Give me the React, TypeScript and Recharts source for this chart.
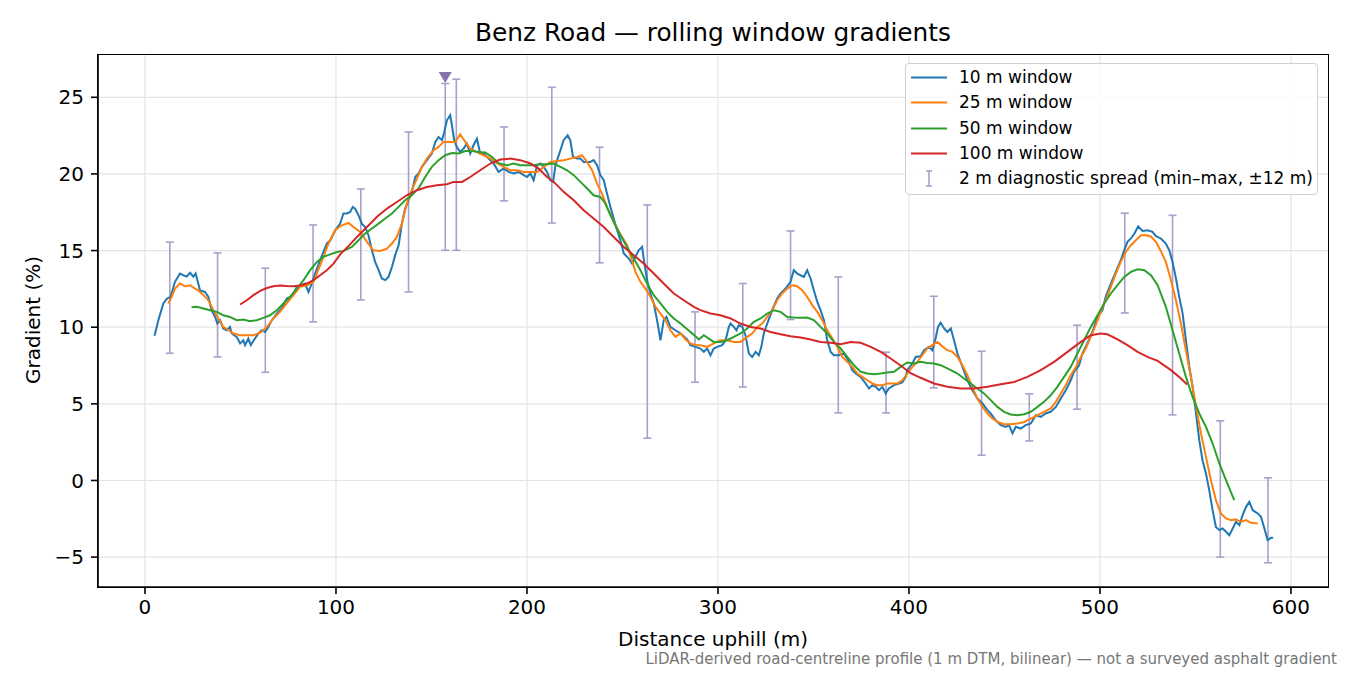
import React from 'react';
import { ComposedChart, Line, Scatter, ErrorBar, XAxis, YAxis, CartesianGrid } from 'recharts';

// [distance (m), gradient (%)]
const win10: [number, number][] = [
  [5, 9.45], [7, 10.46], [9.6, 11.55], [11.4, 11.85], [13.4, 11.98], [15.7, 12.96], [18.3, 13.5], [20, 13.4],
  [21.8, 13.3], [23.6, 13.55], [25.3, 13.3], [26.5, 13.5], [27.9, 12.85], [28.8, 12.4], [31.4, 12.3], [33.2, 11.98],
  [34.9, 11.1], [36.7, 10.67], [37.9, 10.24], [39.3, 10.46], [41, 9.92], [42.8, 9.8], [44.5, 10.02], [45.4, 9.59],
  [48, 9.37], [49.8, 8.94], [51.5, 9.15], [52.4, 8.83], [54.1, 9.26], [55.4, 8.83], [57.6, 9.26], [59.4, 9.59],
  [61.1, 9.8], [62.9, 9.69], [64.6, 10.02], [66.4, 10.46], [69, 10.89], [71.6, 11.22], [74.2, 11.87], [76, 11.98],
  [77.7, 12.2], [79.5, 12.63], [82.1, 12.74], [83.8, 12.85], [85.6, 12.3], [87.3, 12.85], [89.1, 13.5], [91.7, 14.37],
  [95.2, 15.46], [97, 15.67], [99.6, 16.33], [102.2, 16.76], [103.9, 17.42], [105.7, 17.42], [107.4, 17.52], [108.8, 17.85],
  [110, 17.74], [111.8, 17.31], [113.5, 16.76], [115.3, 16.54], [117, 16.0], [118.8, 15.02], [120.5, 14.26], [122.3, 13.72],
  [124, 13.18], [125.8, 13.07], [127.5, 13.28], [129.3, 13.93], [131, 14.7], [132.8, 15.35], [134.5, 16.76], [136.2, 17.74],
  [138, 18.28], [139.7, 18.83], [141.5, 19.8], [143.2, 20.03], [145, 20.46], [147.6, 20.9], [150.2, 21.33], [152, 22.09],
  [153.7, 22.41], [155.5, 22.2], [156.7, 22.74], [158.1, 23.5], [159.8, 23.83], [160.7, 23.18], [161.9, 22.2], [163.3, 21.76],
  [165, 21.43], [166.8, 21.65], [168.5, 21.98], [170.3, 21.33], [172, 21.87], [173.8, 22.3], [175.5, 21.33], [177.3, 21.33],
  [179.9, 21.0], [182.5, 20.7], [185.1, 20.13], [187.8, 20.35], [190.4, 20.13], [193, 20.03], [195.6, 20.13], [198.3, 19.92],
  [200, 19.8], [201.8, 20.03], [203.5, 19.59], [205.3, 20.57], [207, 20.68], [208.8, 20.46], [210.5, 20.13], [212.2, 19.59],
  [213.7, 19.48], [214.9, 20.57], [217.5, 21.54], [219.2, 22.2], [221.3, 22.52], [222.7, 22.2], [224.1, 21.11], [226.2, 21.0],
  [228, 21.0], [229.7, 20.78], [231.5, 20.78], [233.2, 20.78], [234.9, 20.9], [236.7, 20.57], [238.4, 19.92], [240.2, 19.59],
  [241.9, 18.72], [243.7, 17.85], [245.4, 17.09], [247.2, 16.33], [248.9, 15.67], [250.7, 14.81], [253.3, 14.48], [255, 14.16],
  [256.8, 14.59], [258.5, 15.02], [260.3, 15.24], [261.1, 14.48], [262.9, 13.07], [264.6, 12.2], [266.4, 11.55], [268.1, 10.46],
  [269.9, 9.15], [271.6, 10.46], [273, 10.67], [275.1, 10.02], [277.7, 9.8], [280.4, 9.59], [283.9, 9.2], [285.6, 8.83],
  [288.2, 8.72], [290.8, 8.61], [292.6, 8.39], [294.3, 8.61], [296.1, 8.17], [297.8, 8.61], [299.6, 8.72], [302.2, 8.83],
  [304, 9.15], [305.7, 10.02], [306.6, 10.24], [308.3, 10.02], [309.7, 9.8], [310.9, 10.13], [312.7, 10.02], [314.4, 9.48],
  [316.2, 8.28], [317.9, 8.06], [319.7, 8.39], [321.4, 8.17], [322.7, 8.72], [324, 9.59], [325.8, 10.24], [328.4, 11.11],
  [331, 11.87], [332.8, 12.2], [335.4, 12.52], [338, 12.96], [339.7, 13.72], [341.5, 13.5], [343.2, 13.39], [345, 13.28],
  [346.7, 13.72], [348.5, 13.18], [350.2, 12.41], [352, 11.65], [353.7, 11.11], [355.5, 10.46], [357.2, 9.15], [359, 8.39],
  [360.7, 8.17], [363.3, 8.17], [365.9, 8.28], [368.6, 7.74], [370.3, 7.2], [372.1, 6.98], [374.7, 6.76], [377.3, 6.33],
  [379.1, 6.0], [380.8, 6.22], [382.6, 6.11], [384.3, 5.89], [386.1, 6.11], [387.8, 5.68], [389.5, 6.0], [392.2, 6.22],
  [394.8, 6.33], [396.5, 6.4], [398.3, 6.76], [399.1, 7.2], [401.8, 7.63], [403.5, 8.06], [406.1, 8.1], [407.9, 8.5],
  [410.5, 8.72], [412.2, 8.5], [414, 9.3], [415.2, 10.02], [416.6, 10.3], [418.4, 9.92], [420.1, 9.69], [421.9, 9.92],
  [423.6, 9.15], [425.4, 8.28], [428, 7.41], [430.6, 6.54], [433.2, 5.89], [435.8, 5.35], [438.5, 5.02], [441.1, 4.59],
  [442.8, 4.37], [445.4, 3.93], [448.1, 3.61], [450.7, 3.5], [452.4, 3.61], [454.2, 3.07], [455.9, 3.5], [458.5, 3.39],
  [461.1, 3.61], [463.8, 3.72], [466.4, 4.26], [469, 4.15], [471.6, 4.37], [474.2, 4.48], [476.9, 4.8], [479.5, 5.35],
  [482.1, 5.89], [484.7, 6.54], [486.4, 7.09], [489.1, 7.52], [490.8, 8.28], [493.4, 8.94], [496, 9.69], [498.7, 10.67],
  [501.3, 11.11], [503, 11.98], [505.7, 12.85], [508.3, 13.61], [510.9, 14.37], [512.7, 15.02], [514.4, 15.57], [516.2, 15.79],
  [518, 16.1], [520, 16.57], [522.3, 16.28], [524.9, 16.33], [527.5, 16.22], [529.3, 15.94], [531.9, 15.79], [534.5, 15.46],
  [536.3, 15.02], [538, 14.26], [539.8, 13.18], [541.5, 11.98], [543.3, 10.89], [545, 9.15], [546.8, 7.41], [548.5, 6.11],
  [550.3, 4.37], [552, 2.63], [553.7, 1.32], [555.5, 0.46], [557.2, -0.63], [559, -1.94], [560.7, -3.03], [562.5, -3.24],
  [564.2, -3.13], [566, -3.35], [567.7, -3.57], [569.5, -3.13], [571.2, -2.7], [573, -2.92], [574.7, -2.26], [576.5, -1.72],
  [578.2, -1.4], [580, -1.94], [582.6, -2.15], [584.3, -2.37], [586.1, -3.13], [587.8, -3.89], [589.6, -3.74], [590.7, -3.74],
];

const win25: [number, number][] = [
  [12.2, 11.55], [14, 11.98], [15.7, 12.52], [18.3, 12.85], [21, 12.67], [23.6, 12.74], [26.2, 12.52], [27.9, 12.41],
  [30.6, 12.09], [33.2, 11.76], [35.8, 11.11], [38.4, 10.57], [41, 10.02], [43.7, 9.8], [46.3, 9.59], [49.8, 9.48],
  [53.3, 9.48], [56.8, 9.48], [59.4, 9.59], [62, 9.8], [64.6, 10.13], [67.2, 10.57], [70.7, 11.0], [74.2, 11.55],
  [77.7, 12.09], [81.2, 12.63], [84.7, 12.74], [88.2, 12.96], [91.7, 14.04], [96.1, 15.46], [99.6, 16.33], [103, 16.65],
  [106.6, 16.8], [109.2, 16.54], [112.7, 16.22], [116.2, 15.57], [119.6, 15.02], [123.1, 14.98], [126.7, 15.13], [129.3, 15.46],
  [131.9, 15.89], [134.5, 16.76], [137.1, 18.07], [139.7, 18.94], [142.4, 19.7], [145, 20.46], [147.6, 21.0], [151.1, 21.55],
  [153.7, 21.76], [156.3, 22.09], [159.8, 22.09], [162.5, 22.09], [165, 22.59], [167.7, 22.09], [170.3, 21.65], [173.8, 21.43],
  [177.3, 21.22], [180.8, 21.0], [184.3, 20.7], [187.8, 20.46], [191.3, 20.24], [194.8, 20.24], [198.3, 20.13], [201.8, 20.13],
  [205.3, 20.13], [208.8, 20.46], [212.2, 20.78], [215.7, 20.85], [219.2, 20.9], [222.7, 21.0], [226.2, 21.11], [228.8, 21.22],
  [231.5, 20.78], [234.1, 20.24], [236.7, 19.37], [239.3, 18.72], [241.9, 17.85], [244.6, 17.09], [247.2, 16.44], [249.8, 15.89],
  [252.4, 15.35], [255, 14.37], [256.8, 13.61], [259.4, 12.96], [262, 12.52], [264.6, 11.98], [267.3, 11.33], [269.9, 10.89],
  [272.5, 10.46], [275.1, 9.8], [277.7, 9.37], [280.4, 9.6], [283, 9.2], [285.6, 8.94], [288.2, 8.83], [290.8, 8.83],
  [294.3, 8.72], [297.8, 8.94], [301.3, 9.15], [304.8, 9.15], [308.3, 9.04], [311.8, 9.04], [315.3, 9.37], [317.9, 9.59],
  [320.6, 10.02], [323.2, 10.24], [325.8, 10.67], [328.4, 11.11], [331, 11.76], [333.6, 12.2], [336.3, 12.52], [338.9, 12.74],
  [341.5, 12.67], [344.1, 12.41], [346.7, 11.98], [349.4, 11.44], [352, 11.0], [354.6, 10.46], [357.2, 9.8], [359.9, 9.26],
  [362.5, 8.72], [365.1, 8.06], [367.7, 7.74], [370.3, 7.41], [373, 6.98], [375.6, 6.76], [378.2, 6.54], [380.8, 6.33],
  [383.4, 6.22], [386.1, 6.22], [388.7, 6.33], [391.3, 6.33], [393.9, 6.33], [396.5, 6.54], [399.2, 6.98], [401.8, 7.41],
  [404.4, 7.74], [407, 8.17], [409.6, 8.61], [412.2, 8.83], [414.9, 9.04], [417.5, 8.75], [420.1, 8.5], [422.7, 8.39],
  [425.4, 8.06], [428, 7.52], [430.6, 6.87], [433.2, 6.11], [435.8, 5.35], [438.5, 4.8], [441.1, 4.37], [443.7, 4.04],
  [446.3, 3.82], [449.8, 3.67], [453.3, 3.67], [456.8, 3.72], [460.3, 3.82], [463.8, 4.04], [467.3, 4.26], [470.7, 4.48],
  [474.2, 4.7], [476.9, 5.13], [479.5, 5.68], [482.1, 6.22], [484.7, 6.87], [487.4, 7.41], [490, 8.06], [492.6, 8.61],
  [495.2, 9.37], [497.8, 10.13], [500.4, 11.0], [503, 11.76], [505.7, 12.63], [508.3, 13.5], [510.9, 14.26], [513.5, 14.91],
  [516.2, 15.35], [518.8, 15.67], [521.4, 16.0], [524, 16.0], [526.7, 15.92], [529.3, 15.57], [531.9, 14.96], [534.5, 14.26],
  [537.2, 13.07], [539.8, 11.76], [542.4, 10.24], [545, 8.5], [547.6, 6.76], [550.3, 4.8], [552.9, 3.07], [555.5, 1.54],
  [558.1, 0.02], [560.7, -1.28], [563.3, -2.15], [566, -2.48], [568.6, -2.59], [571.2, -2.54], [573.8, -2.7], [576.5, -2.59],
  [579.1, -2.76], [582.6, -2.81],
];

const win50: [number, number][] = [
  [24.4, 11.3], [27.1, 11.33], [30.6, 11.22], [34.1, 11.11], [37.6, 11.0], [41, 10.78], [44.5, 10.67], [48, 10.46],
  [51.5, 10.5], [55, 10.39], [58.5, 10.46], [62, 10.61], [65.5, 10.78], [69, 11.11], [72.5, 11.55], [76, 11.98],
  [79.5, 12.52], [83, 13.07], [86.5, 13.72], [90, 14.26], [93.4, 14.59], [96.9, 14.75], [100.5, 14.91], [104, 14.98],
  [108.3, 15.24], [111.8, 15.67], [115.3, 16.11], [118.8, 16.44], [122.3, 16.76], [125.8, 17.09], [129.3, 17.42], [132.8, 17.85],
  [136.2, 18.28], [139.7, 18.61], [143.2, 19.05], [146.7, 19.8], [150.2, 20.46], [153.7, 20.9], [157.2, 21.22], [160.7, 21.37],
  [164.2, 21.33], [167.7, 21.5], [171.2, 21.5], [174.7, 21.43], [178.2, 21.4], [181.7, 21.1], [185.1, 20.7], [189.5, 20.57],
  [193, 20.68], [196.5, 20.57], [200, 20.57], [203.5, 20.57], [207, 20.63], [210.5, 20.63], [214, 20.68], [217.5, 20.46],
  [221, 20.24], [224.5, 19.92], [228, 19.48], [231.5, 19.05], [234.9, 18.61], [238.4, 18.5], [241, 18.07], [243.7, 17.31],
  [246.3, 16.65], [248.9, 16.0], [252.4, 15.24], [255.9, 14.48], [259.4, 13.72], [262.9, 12.85], [266.4, 12.09], [269.9, 11.55],
  [273.4, 11.0], [276.9, 10.57], [280.4, 10.24], [283.9, 9.86], [287.4, 9.5], [290, 9.2], [292.6, 9.48], [295.2, 9.26],
  [297.8, 9.04], [301.3, 9.04], [304.8, 9.15], [308.3, 9.37], [311.8, 9.59], [315.3, 9.92], [318.8, 10.35], [322.3, 10.57],
  [325.8, 10.89], [329.3, 11.11], [332.8, 11.0], [336.3, 10.67], [339.7, 10.63], [343.2, 10.61], [346.7, 10.63], [350.2, 10.46],
  [353.7, 10.02], [357.2, 9.59], [360.7, 9.04], [364.2, 8.61], [367.7, 8.06], [371.2, 7.52], [374.7, 7.09], [378.2, 6.98],
  [381.7, 6.93], [385.2, 6.98], [388.7, 7.04], [392.2, 7.09], [395.6, 7.41], [399.1, 7.7], [402.6, 7.63], [406.1, 7.74],
  [409.6, 7.67], [413.1, 7.63], [416.6, 7.52], [421.9, 7.2], [425.4, 6.98], [428.8, 6.65], [432.3, 6.33], [435.8, 6.0],
  [439.3, 5.68], [442.8, 5.24], [446.3, 4.8], [449.8, 4.48], [453.3, 4.31], [456.8, 4.26], [460.3, 4.32], [463.8, 4.48],
  [467.3, 4.8], [470.7, 5.13], [474.2, 5.56], [477.7, 6.11], [481.2, 6.76], [484.7, 7.41], [488.2, 8.28], [491.7, 9.15],
  [495.2, 10.02], [498.7, 10.78], [502.2, 11.55], [505.7, 12.2], [509.2, 12.74], [512.7, 13.28], [516.2, 13.61], [519.7, 13.78],
  [523.2, 13.72], [526.7, 13.39], [530.2, 12.74], [534.5, 11.33], [538, 9.8], [541.5, 8.28], [545, 6.76], [548.5, 5.45],
  [552, 4.37], [555.5, 3.5], [559, 2.41], [562.5, 1.11], [566, 0.02], [570.3, -1.28],
];

const win100: [number, number][] = [
  [49.8, 11.48], [53.3, 11.76], [56.8, 12.09], [60.3, 12.37], [63.8, 12.56], [67.2, 12.67], [70.7, 12.72], [74.2, 12.69],
  [77.7, 12.67], [81.2, 12.72], [84.7, 12.85], [88.2, 13.07], [91.7, 13.39], [95.2, 13.72], [98.7, 14.15], [102.2, 14.75],
  [105.7, 15.18], [111, 15.89], [116.2, 16.54], [121.5, 17.2], [126.7, 17.74], [131.9, 18.17], [137.1, 18.61], [142.4, 18.94],
  [147.6, 19.15], [152.9, 19.26], [158.1, 19.33], [161.6, 19.48], [166, 19.48], [170.3, 19.8], [175.5, 20.24], [180.8, 20.68],
  [186, 20.94], [191.3, 21.0], [196.5, 20.9], [201.8, 20.68], [206.1, 20.35], [210.5, 19.8], [214, 19.48], [219.2, 18.83],
  [224.5, 18.28], [229.7, 17.63], [234.9, 17.09], [240.2, 16.54], [245.4, 15.89], [250.7, 15.24], [255.9, 14.7], [261.1, 14.15],
  [266.4, 13.5], [271.6, 12.85], [276.9, 12.2], [282.1, 11.76], [287.4, 11.33], [290.8, 11.11], [296.1, 10.89], [301.3, 10.78],
  [306.6, 10.57], [311.8, 10.24], [317.1, 10.02], [322.3, 9.92], [327.5, 9.69], [332.8, 9.54], [338, 9.41], [343.2, 9.33],
  [348.5, 9.2], [353.7, 9.04], [359, 8.98], [364.2, 8.89], [369.5, 9.04], [374.7, 8.98], [380, 8.72], [385.2, 8.39],
  [390.4, 7.96], [395.6, 7.5], [400.9, 7.0], [406.1, 6.7], [413.1, 6.33], [420.1, 6.11], [427.1, 6.0], [434.1, 6.0],
  [441.1, 6.11], [448.1, 6.28], [455.1, 6.43], [462, 6.76], [469, 7.2], [476, 7.74], [483, 8.39], [490, 9.04],
  [495.2, 9.48], [500.4, 9.59], [503.9, 9.54], [509.2, 9.2], [514.4, 8.83], [519.7, 8.39], [524.9, 8.06], [530.2, 7.8],
  [537.2, 7.2], [542.4, 6.65], [545.6, 6.26],
];

// [distance (m), min (%), max (%)]
const spread: [number, number, number][] = [
  [13, 8.3, 15.55], [38, 8.06, 14.85], [63, 7.06, 13.85], [88, 10.35, 16.67], [113, 11.78, 19.02],
  [138, 12.3, 22.74], [157.2, 15.02, 25.9], [163, 15.02, 26.18], [188, 18.24, 23.07], [213, 16.8, 25.65],
  [238, 14.2, 21.74], [263, 2.76, 17.98], [288, 6.41, 11.0], [313, 6.1, 12.85], [338, 10.5, 16.28],
  [363, 4.41, 13.28], [388, 4.41, 8.37], [413, 6.04, 12.02], [438, 1.65, 8.43], [463, 2.58, 5.65],
  [488, 4.65, 10.13], [513, 10.93, 17.44], [538, 4.28, 17.3], [563, -5.0, 3.89], [588, -5.37, 0.17],
];

const peakMark: [number, number] = [157.2, 26.3];

const xTicks = [0, 100, 200, 300, 400, 500, 600];
const yTicks = [-5, 0, 5, 10, 15, 20, 25];

const titleText = 'Benz Road \u2014 rolling window gradients';
const xLabel = 'Distance uphill (m)';
const yLabel = 'Gradient (%)';
const footnote = 'LiDAR-derived road-centreline profile (1 m DTM, bilinear) \u2014 not a surveyed asphalt gradient';

const seriesNames = ['10 m window', '25 m window', '50 m window', '100 m window'];
const seriesColors = ['#1f77b4', '#ff7f0e', '#2ca02c', '#d62728'];
const spreadName = '2 m diagnostic spread (min\u2013max, \u00b112 m)';

const FONT = '"DejaVu Sans", sans-serif';
const BAR_COLOR = '#aa9fca';
const PEAK_COLOR = '#8672ad';

const toPts = (arr: [number, number][]) => arr.map(([d, v]) => ({ d, v }));
const seriesData = [win10, win25, win50, win100].map(toPts);
const spreadData = spread.map(([d, lo, hi]) => ({ d, mid: (lo + hi) / 2, err: [(hi - lo) / 2, (hi - lo) / 2] }));
const peakData = [{ d: peakMark[0], v: peakMark[1] }];

const fmt = (v: number) => (v < 0 ? `\u2212${Math.abs(v)}` : `${v}`);

const Empty = () => <g />;
const TriDown = (props: any) => {
  const { cx, cy } = props;
  if (cx == null || cy == null) return <g />;
  const w = 6.5;
  const h = 5.5;
  return <polygon points={`${cx - w},${cy - h} ${cx + w},${cy - h} ${cx},${cy + h}`} fill={PEAK_COLOR} />;
};

export default function App() {
  const W = 1350;
  const H = 675;
  const tickStyle = { fill: '#000', fontSize: 20, fontFamily: FONT };
  return (
    <div style={{ position: 'absolute', left: 0, top: 0, width: W, height: H, background: '#fff', fontFamily: FONT }}>
      <ComposedChart width={W} height={H} margin={{ top: 55, right: 22, bottom: 48, left: 38 }}>
        <CartesianGrid stroke="#e4e4e4" strokeWidth={1.2} horizontalValues={yTicks} verticalValues={xTicks} />
        <XAxis
          dataKey="d"
          type="number"
          domain={[-24.6, 619.4]}
          ticks={xTicks}
          allowDataOverflow
          height={40}
          tick={tickStyle}
          tickSize={7}
          tickMargin={6}
          tickLine={{ stroke: '#000', strokeWidth: 1.6 }}
          axisLine={{ stroke: '#000', strokeWidth: 1.6 }}
        />
        <YAxis
          type="number"
          domain={[-6.95, 27.76]}
          ticks={yTicks}
          allowDataOverflow
          width={60}
          tick={tickStyle}
          tickFormatter={fmt}
          tickSize={7}
          tickMargin={7}
          tickLine={{ stroke: '#000', strokeWidth: 1.6 }}
          axisLine={{ stroke: '#000', strokeWidth: 1.6 }}
        />
        <Scatter data={spreadData} dataKey="mid" shape={Empty} isAnimationActive={false} legendType="none">
          <ErrorBar dataKey="err" direction="y" width={4} stroke={BAR_COLOR} strokeWidth={1.6} />
        </Scatter>
        {seriesData.map((data, i) => (
          <Line
            key={seriesNames[i]}
            data={data}
            dataKey="v"
            name={seriesNames[i]}
            type="linear"
            stroke={seriesColors[i]}
            strokeWidth={2}
            dot={false}
            activeDot={false}
            isAnimationActive={false}
          />
        ))}
        <Scatter data={peakData} dataKey="v" shape={TriDown} isAnimationActive={false} legendType="none" />
      </ComposedChart>

      <div
        style={{
          position: 'absolute',
          left: 97.2,
          top: 54.2,
          width: 1231.6,
          height: 533.6,
          border: '1.6px solid #000',
          boxSizing: 'border-box',
          pointerEvents: 'none',
        }}
      />

      <div style={{ position: 'absolute', left: 98, width: 1230, top: 18, textAlign: 'center', fontSize: 24.8, color: '#000', lineHeight: '30px' }}>
        {titleText}
      </div>
      <div style={{ position: 'absolute', left: 98, width: 1230, top: 627, textAlign: 'center', fontSize: 20, color: '#000', lineHeight: '24px' }}>
        {xLabel}
      </div>
      <div
        style={{
          position: 'absolute',
          left: 33,
          top: 320,
          transform: 'translate(-50%, -50%) rotate(-90deg)',
          fontSize: 20,
          color: '#000',
          whiteSpace: 'nowrap',
          lineHeight: '24px',
        }}
      >
        {yLabel}
      </div>
      <div style={{ position: 'absolute', right: 13, top: 650, fontSize: 15, color: '#777', whiteSpace: 'nowrap', lineHeight: '18px' }}>
        {footnote}
      </div>

      <div
        style={{
          position: 'absolute',
          left: 905,
          top: 63,
          width: 413,
          height: 132,
          border: '1.3px solid #d0d0d0',
          borderRadius: 4,
          background: 'rgba(255,255,255,0.85)',
          boxSizing: 'border-box',
        }}
      >
        {seriesNames.map((n, i) => (
          <div key={n} style={{ position: 'absolute', left: 0, top: 1 + i * 25.3, height: 25, width: 405 }}>
            <svg width={46} height={25} style={{ position: 'absolute', left: 0, top: 0 }}>
              <line x1={5} x2={41} y1={12.5} y2={12.5} stroke={seriesColors[i]} strokeWidth={2} />
            </svg>
            <span style={{ position: 'absolute', left: 53, top: 0, fontSize: 17, lineHeight: '25px', color: '#000', whiteSpace: 'nowrap' }}>{n}</span>
          </div>
        ))}
        <div style={{ position: 'absolute', left: 0, top: 1 + 4 * 25.3, height: 25, width: 405 }}>
          <svg width={46} height={25} style={{ position: 'absolute', left: 0, top: 0 }}>
            <line x1={23} x2={23} y1={5} y2={20} stroke={BAR_COLOR} strokeWidth={1.6} />
            <line x1={20} x2={26} y1={5} y2={5} stroke={BAR_COLOR} strokeWidth={1.6} />
            <line x1={20} x2={26} y1={20} y2={20} stroke={BAR_COLOR} strokeWidth={1.6} />
          </svg>
          <span style={{ position: 'absolute', left: 53, top: 0, fontSize: 17, lineHeight: '25px', color: '#000', whiteSpace: 'nowrap' }}>{spreadName}</span>
        </div>
      </div>
    </div>
  );
}
